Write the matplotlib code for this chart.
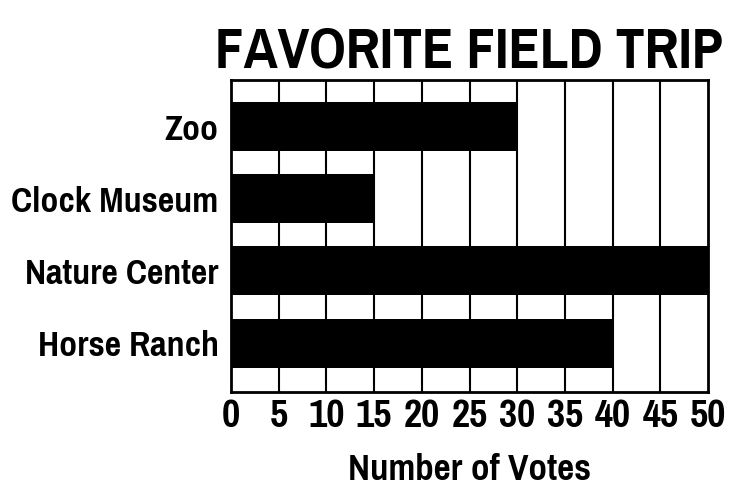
import matplotlib
matplotlib.use("Agg")
import matplotlib.pyplot as plt
from matplotlib import font_manager

# condensed bold face, first one that is installed
names = {f.name for f in font_manager.fontManager.ttflist}
wanted = ["Liberation Sans Narrow", "Arial Narrow", "Pragati Narrow", "Archivo Narrow",
          "PT Sans Narrow", "Roboto Condensed", "Liberation Sans"]
font = next(n for n in wanted if n in names)
plt.rcParams['font.family'] = [font, 'DejaVu Sans']
plt.rcParams['font.weight'] = 'bold'
plt.rcParams['axes.labelweight'] = 'bold'

trips = ["Zoo", "Clock Museum", "Nature Center", "Horse Ranch"]
votes = [30, 15, 50, 40]
ticks = [0, 5, 10, 15, 20, 25, 30, 35, 40, 45, 50]

fig = plt.figure(figsize=(7.29, 4.91), dpi=100)
ax = fig.add_axes([231/729, 1 - 392/491, 477/729, 312/491])

ax.barh(range(len(trips)), votes, height=0.68, color="black", zorder=3)
for t in ticks[1:-1]:
    ax.axvline(t, color="black", lw=1.5, zorder=1)

ax.set_xlim(0, 50)
ax.set_ylim(3.68, -0.65)
ax.set_xticks(ticks)
ax.set_xticklabels([str(t) for t in ticks], fontsize=31)
ax.set_yticks(range(len(trips)))
ax.set_yticklabels(trips, fontsize=28)
ax.tick_params(length=0, pad=5)
ax.tick_params(axis="y", pad=9)
for s in ax.spines.values():
    s.set_linewidth(2)
ax.set_xlabel("Number of Votes", fontsize=29, labelpad=14)

fig.text(469.5/729, 1 - 68/491, "FAVORITE FIELD TRIP", fontsize=45,
         ha="center", va="baseline")

fig.savefig("out.png", dpi=100)
